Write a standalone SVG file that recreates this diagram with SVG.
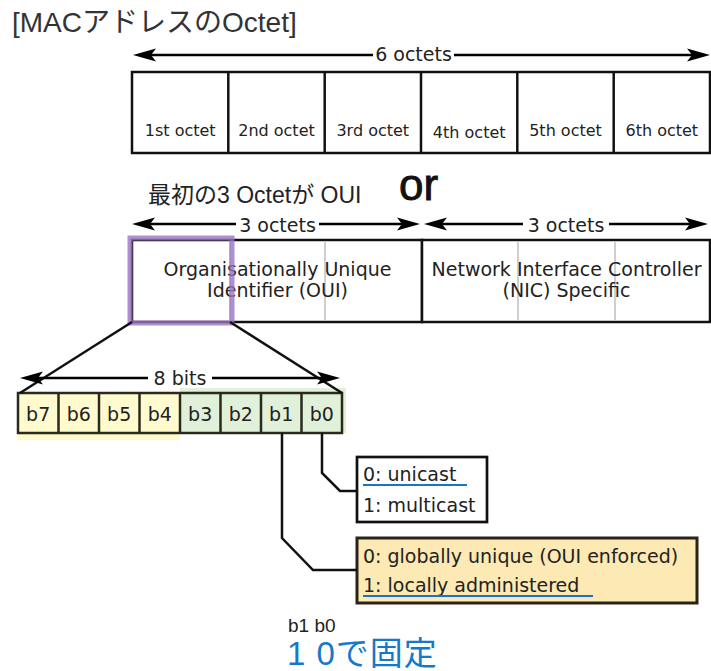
<svg xmlns="http://www.w3.org/2000/svg" width="711" height="671" viewBox="0 0 711 671">
  <style>
    .jp { font-family: "Liberation Sans", "Noto Sans CJK JP", sans-serif; }
    .lbl { font-family: "DejaVu Sans", Verdana, sans-serif; fill: #222; }
    .box { fill: #fff; stroke: #111; stroke-width: 2.5; }
    .div { stroke: #111; stroke-width: 2.5; }
    .faint { stroke: #cfcfcf; stroke-width: 2; }
    .wire { fill: none; stroke: #111; stroke-width: 2.5; }
    .dim { fill: none; stroke: #000; stroke-width: 2.5; marker-start: url(#head); marker-end: url(#head); }
    .ul { stroke: #1a73c8; stroke-width: 2; }
  </style>
  <defs>
    <marker id="head" markerUnits="userSpaceOnUse" markerWidth="30" markerHeight="20" viewBox="-15 -10 30 20" refX="0" refY="0" orient="auto-start-reverse">
      <path d="M10,0 L-13,-6.5 L-8,0 L-13,6.5 Z" fill="#000"/>
    </marker>
  </defs>

  <rect width="711" height="671" fill="#fff"/>

  <!-- heading -->
  <g id="title">
    <text class="jp" x="12" y="32" font-size="28" fill="#333">[MACアドレスのOctet]</text>
  </g>

  <!-- six octets row -->
  <g id="octets">
    <rect class="box" x="132" y="72" width="578" height="81"/>
    <line class="div" x1="228.3" y1="72" x2="228.3" y2="153"/>
    <line class="div" x1="324.7" y1="72" x2="324.7" y2="153"/>
    <line class="div" x1="421" y1="72" x2="421" y2="153"/>
    <line class="div" x1="517.3" y1="72" x2="517.3" y2="153"/>
    <line class="div" x1="613.7" y1="72" x2="613.7" y2="153"/>
    <g class="lbl" font-size="16" text-anchor="middle">
      <text x="180.2" y="136">1st octet</text>
      <text x="276.5" y="136">2nd octet</text>
      <text x="372.8" y="136">3rd octet</text>
      <text x="469.2" y="137.5">4th octet</text>
      <text x="565.5" y="136">5th octet</text>
      <text x="661.8" y="136">6th octet</text>
    </g>
  </g>

  <g id="caption-oui">
    <text class="jp" x="148" y="203" font-size="23" fill="#222">最初の3 Octetが OUI</text>
  </g>
  <g id="caption-or">
    <text class="jp" x="399" y="200" font-size="44" fill="#111" stroke="#111" stroke-width="0.9">or</text>
  </g>

  <!-- OUI half -->
  <g id="oui">
    <rect class="box" x="132" y="240" width="290" height="82"/>
    <line class="faint" x1="230" y1="241.5" x2="230" y2="320.5"/>
    <line class="faint" x1="325" y1="241.5" x2="325" y2="320.5"/>
    <g class="lbl" font-size="19" text-anchor="middle">
      <text x="277.5" y="276">Organisationally Unique</text>
      <text x="277.5" y="297">Identifier (OUI)</text>
    </g>
    <rect x="130" y="238" width="102" height="85" fill="none" stroke="#9a73c3" stroke-width="5" opacity="0.8"/>
  </g>

  <!-- NIC half -->
  <g id="nic">
    <rect class="box" x="422" y="240" width="288" height="82"/>
    <line class="faint" x1="518" y1="241.5" x2="518" y2="320.5"/>
    <line class="faint" x1="615" y1="241.5" x2="615" y2="320.5"/>
    <g class="lbl" font-size="19" text-anchor="middle">
      <text x="566.5" y="276">Network Interface Controller</text>
      <text x="566.5" y="297">(NIC) Specific</text>
    </g>
  </g>

  <!-- eight bits of the first octet -->
  <g id="bits">
    <rect x="18" y="393" width="162" height="47" fill="#fffbc9"/>
    <rect x="180" y="388" width="166" height="45" fill="#e1f0d9"/>
    <rect x="18" y="393" width="162" height="40" fill="#fffbcf"/>
    <g stroke="#2a2a1c" stroke-width="2.5">
      <line x1="58.5" y1="393" x2="58.5" y2="433"/>
      <line x1="99" y1="393" x2="99" y2="433"/>
      <line x1="139.5" y1="393" x2="139.5" y2="433"/>
      <line x1="180" y1="393" x2="180" y2="433"/>
      <line x1="220.5" y1="393" x2="220.5" y2="433"/>
      <line x1="261" y1="393" x2="261" y2="433"/>
      <line x1="301.5" y1="393" x2="301.5" y2="433"/>
    </g>
    <rect x="18" y="393" width="324" height="40" fill="none" stroke="#2a2a1c" stroke-width="2.5"/>
    <g class="lbl" font-size="19" text-anchor="middle" fill="#2a2a20">
      <text x="38.2" y="421">b7</text>
      <text x="78.8" y="421">b6</text>
      <text x="119.2" y="421">b5</text>
      <text x="159.8" y="421">b4</text>
      <text x="200.2" y="421">b3</text>
      <text x="240.8" y="421">b2</text>
      <text x="281.2" y="421">b1</text>
      <text x="321.8" y="421">b0</text>
    </g>
  </g>

  <!-- b0 meaning -->
  <g id="cast">
    <rect x="357" y="457" width="130" height="65" fill="#fff" stroke="#111" stroke-width="2.7"/>
    <text class="lbl" x="363" y="481" font-size="19">0: unicast</text>
    <line class="ul" x1="363" y1="485" x2="467" y2="485"/>
    <text class="lbl" x="363" y="512" font-size="19">1: multicast</text>
  </g>

  <!-- b1 meaning -->
  <g id="scope">
    <rect x="357" y="538" width="340" height="65" fill="#fce9b4" stroke="#2a2418" stroke-width="3"/>
    <text class="lbl" x="363" y="563" font-size="19" fill="#3a3428">0: globally unique (OUI enforced)</text>
    <text class="lbl" x="363" y="592" font-size="19" fill="#3a3428">1: locally administered</text>
    <line class="ul" x1="363" y1="596" x2="593" y2="596"/>
  </g>

  <g id="note">
    <text class="jp" x="288" y="632" font-size="19" fill="#222">b1 b0</text>
    <text class="jp" x="287" y="665" font-size="33" letter-spacing="1" fill="#1479c9">1 0で固定</text>
  </g>

  <!-- connectors and dimension arrows -->
  <g id="connectors">
    <path class="dim" d="M143,55 H373 M454,55 H700"/>
    <text class="lbl" x="413.5" y="61" font-size="19" text-anchor="middle">6 octets</text>

    <path class="dim" d="M142,224 H236 M319,224 H410"/>
    <text class="lbl" x="277.5" y="232" font-size="19" text-anchor="middle">3 octets</text>
    <path class="dim" d="M434,224 H523 M609,224 H698"/>
    <text class="lbl" x="566" y="232" font-size="19" text-anchor="middle">3 octets</text>

    <path class="wire" d="M132,322 L20,393"/>
    <path class="wire" d="M230,322 L342,393"/>
    <path class="dim" d="M30,378 H148 M212,378 H330"/>
    <text class="lbl" x="180" y="385" font-size="19" text-anchor="middle">8 bits</text>

    <path class="wire" d="M322,433 V473 L340,491 H357"/>
    <path class="wire" d="M282,433 V538 L313,570 H357"/>
  </g>
</svg>
